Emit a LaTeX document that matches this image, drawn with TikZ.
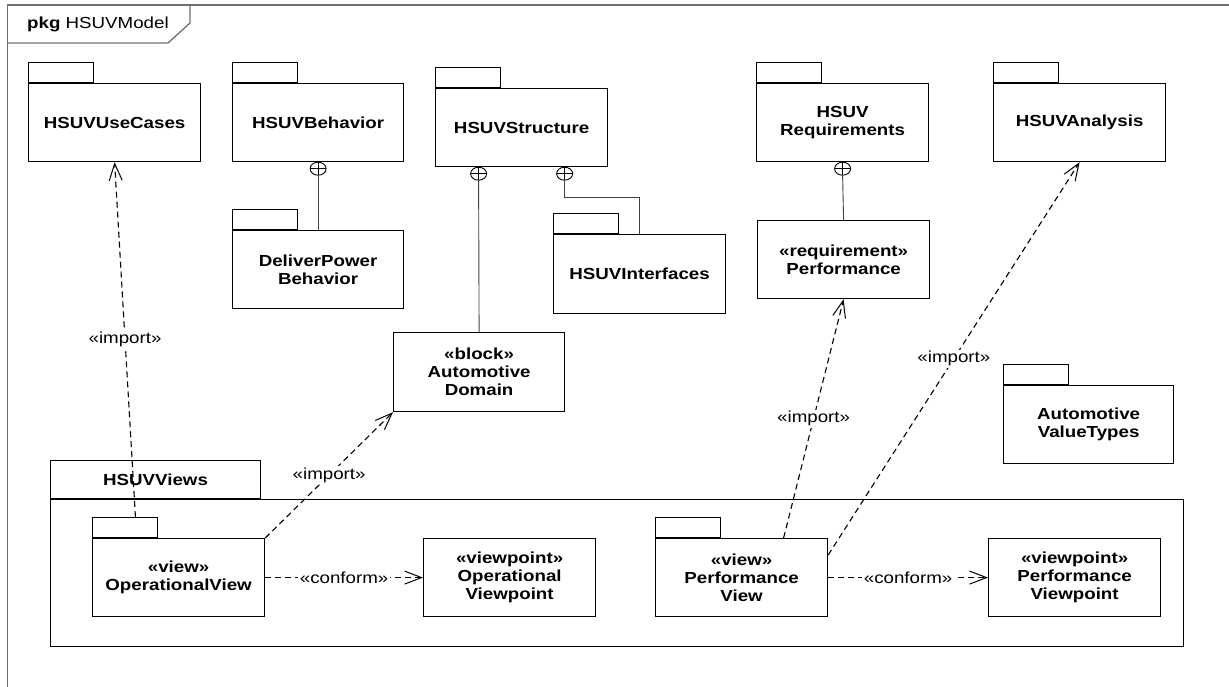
\documentclass[tikz,border=0pt]{standalone}
\usepackage{fontspec}
\setmainfont{Liberation Sans}[FakeStretch=1.17]
\usetikzlibrary{arrows.meta,shapes.geometric,calc}
\definecolor{framecol}{HTML}{707070}
\definecolor{linecol}{HTML}{404040}
\begin{document}
\begin{tikzpicture}[x=1pt,y=-1pt,
  txt/.style={font=\fontsize{16}{18}\selectfont},
  box/.style={draw, line width=1.2pt, anchor=north west, inner sep=0pt, align=center,
    minimum width=172pt, minimum height=78pt, font=\fontsize{16}{18}\selectfont\bfseries},
  tabbox/.style={draw, line width=0.9pt, anchor=south west, minimum width=65pt, minimum height=20pt, inner sep=0pt},
  contain/.style={draw, ellipse, line width=0.9pt, minimum width=16pt, minimum height=13pt, inner sep=0pt, fill=white,
    path picture={\draw[line width=0.9pt] (path picture bounding box.north) -- (path picture bounding box.south)
      (path picture bounding box.west) -- (path picture bounding box.east);}},
  cline/.style={draw=linecol, line width=0.9pt},
  dep/.style={draw, line width=1.1pt, dash pattern=on 6pt off 4pt,
    -{Straight Barb[length=17pt,width=13pt,line width=1pt]}},
  lbl/.style={fill=white, inner sep=1.5pt, font=\fontsize{16}{18}\selectfont}
]
\useasboundingbox (0,0) rectangle (1229,687);
% outer frame
\draw[framecol, line width=1.5pt] (1229,5) -- (7.5,5) -- (7.5,687);
\draw[framecol, line width=1.3pt] (190,5) -- (190,23) -- (168,43) -- (7.5,43);
\node[txt, anchor=base west, inner sep=0pt] (title) at (27,29) {\textbf{pkg} HSUVModel};

% top packages
\node[box] (uc) at (28,83) {HSUVUseCases};
\node[tabbox] (uct) at (uc.north west) {};
\node[box, minimum width=171pt] (beh) at (232,83) {HSUVBehavior};
\node[tabbox] (beht) at (beh.north west) {};
\node[box] (str) at (435,88) {HSUVStructure};
\node[tabbox] (strt) at (str.north west) {};
\node[box] (req) at (756,83) {HSUV\\Requirements};
\node[tabbox] (reqt) at (req.north west) {};
\node[box] (an) at (993,83) {HSUVAnalysis};
\node[tabbox] (ant) at (an.north west) {};

% second row
\node[box, minimum width=171pt] (dpb) at (232,230) {DeliverPower\\Behavior};
\node[tabbox] (dpbt) at (dpb.north west) {};
\node[box, minimum height=79pt] (itf) at (553,234) {HSUVInterfaces};
\node[tabbox] (itft) at (itf.north west) {};
\node[box, minimum width=171pt, minimum height=79pt] (ad) at (393,332) {«block»\\Automotive\\Domain};
\node[box] (pr) at (757,220) {«requirement»\\Performance};
\node[box, minimum width=170pt] (avt) at (1003,385) {Automotive\\ValueTypes};
\node[tabbox] (avtt) at (avt.north west) {};

% views package
\node[draw, line width=1.2pt, anchor=north west, minimum width=1133pt, minimum height=147pt, inner sep=0pt] (views) at (50,499) {};
\node[box, anchor=south west, minimum width=210pt, minimum height=38pt] (viewst) at (views.north west) {HSUVViews};
\node[box] (ov) at (92,538) {«view»\\OperationalView};
\node[tabbox] (ovt) at (ov.north west) {};
\node[box] (ovp) at (423,538) {«viewpoint»\\Operational\\Viewpoint};
\node[box] (pv) at (655,538) {«view»\\Performance\\View};
\node[tabbox] (pvt) at (pv.north west) {};
\node[box] (pvp) at (988,538) {«viewpoint»\\Performance\\Viewpoint};

% containment
\node[contain] (behc) at ($(beh.south)+(0,6.5)$) {};
\draw[cline] (behc.south) -- (dpb.north);
\node[contain] (strc1) at ($(str.south)+(-43,6.5)$) {};
\draw[cline] (strc1.south) -- (ad.north);
\node[contain] (strc2) at ($(str.south)+(43,6.5)$) {};
\coordinate (sbend) at ($(strc2.south)+(0,17)$);
\draw[cline] (strc2.south) -- (sbend) -| (itf.north);
\node[contain] (reqc) at ($(req.south)+(0,6.5)$) {};
\draw[cline] (reqc.south) -- (pr.north);

% dependencies
\coordinate (ovs) at ($(ovt.north)+(10.5,0)$);
\draw[dep] (ovs) -- node[lbl, midway] (l1) {«import»} (uc.south);
\draw[dep] (ov.north east) -- node[lbl, midway] (l2) {«import»} (ad.south west);
\coordinate (pvs) at ($(pv.north)+(42,0)$);
\draw[dep] (pvs) -- node[lbl, midway] (l3) {«import»} (pr.south);
\coordinate (pvs2) at ($(pv.north east)+(0,17)$);
\draw[dep] (pvs2) -- node[lbl, midway] (l4) {«import»} (an.south);
\draw[dep] (ov.east) -- node[lbl, midway] (l5) {«conform»} (ovp.west);
\draw[dep] (pv.east) -- node[lbl, midway] (l6) {«conform»} (pvp.west);
\end{tikzpicture}
\end{document}
